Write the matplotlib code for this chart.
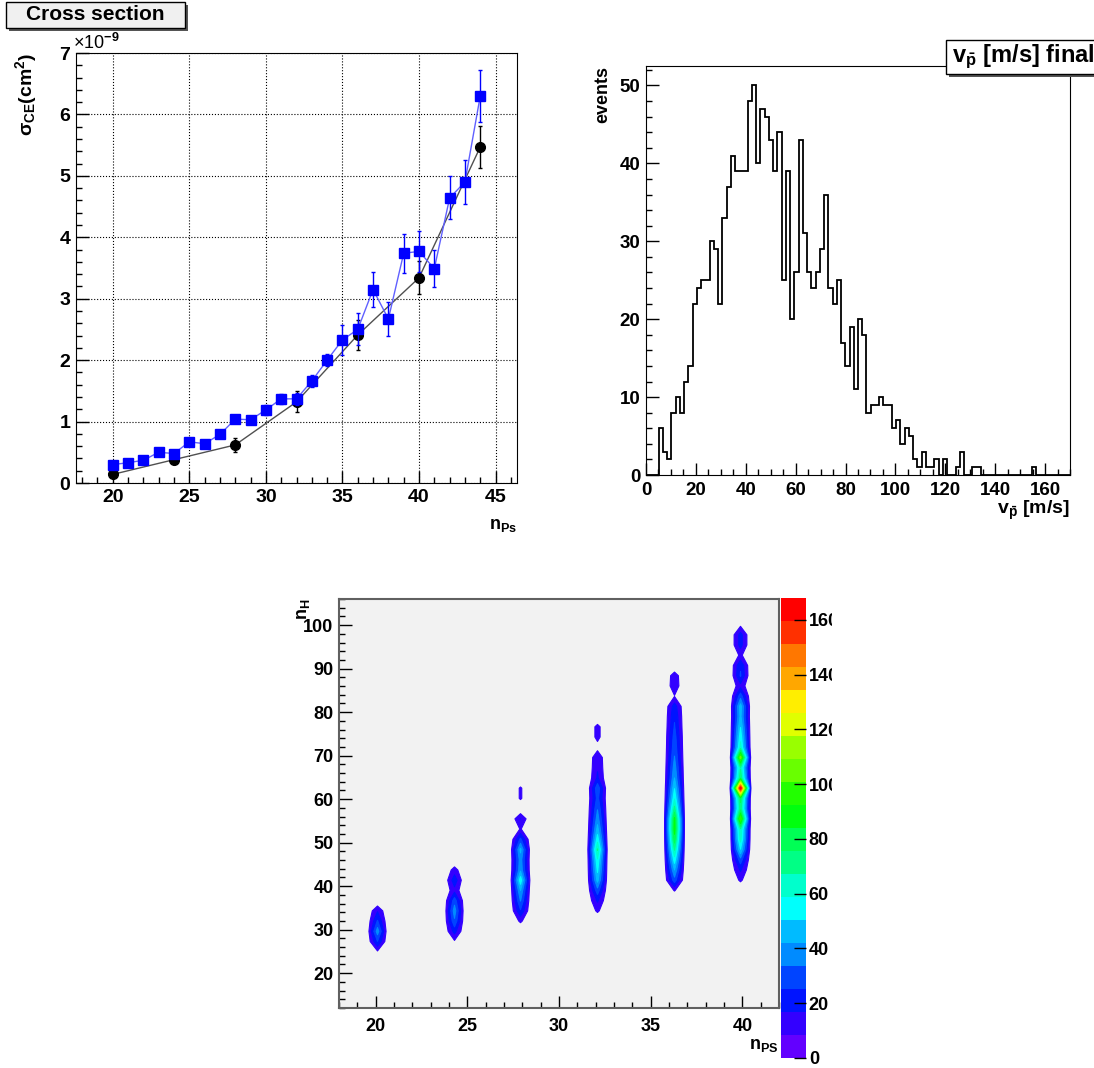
import colorsys
import numpy as np
import matplotlib
matplotlib.use('Agg')
import matplotlib.pyplot as plt
from matplotlib.colors import ListedColormap, BoundaryNorm
from matplotlib.cm import ScalarMappable
from matplotlib.ticker import MultipleLocator
from matplotlib.patches import Rectangle

plt.rcParams['font.family'] = ['Liberation Sans', 'DejaVu Sans']
plt.rcParams['font.weight'] = 'bold'
plt.rcParams['mathtext.fontset'] = 'custom'
plt.rcParams['mathtext.rm'] = 'Liberation Sans:bold'
plt.rcParams['mathtext.it'] = 'Liberation Sans:bold'
plt.rcParams['mathtext.bf'] = 'Liberation Sans:bold'

# --- cross section vs n_Ps (units of 1e-9 cm^2)
n_blue = list(range(20, 45))
sigma_blue = [0.30, 0.33, 0.37, 0.50, 0.48, 0.67, 0.64, 0.79, 1.04, 1.03,
              1.19, 1.37, 1.37, 1.66, 2.00, 2.33, 2.50, 3.15, 2.67, 3.74,
              3.77, 3.49, 4.64, 4.90, 6.30]
err_blue = [0.03, 0.03, 0.03, 0.04, 0.04, 0.05, 0.05, 0.05, 0.06, 0.06,
            0.08, 0.08, 0.10, 0.10, 0.10, 0.25, 0.26, 0.29, 0.27, 0.32,
            0.33, 0.30, 0.35, 0.36, 0.42]
n_black = [20, 24, 28, 32, 36, 40, 44]
sigma_black = [0.14, 0.38, 0.62, 1.32, 2.41, 3.34, 5.47]
err_black = [0.03, 0.06, 0.11, 0.17, 0.24, 0.27, 0.34]

# --- antiproton velocity histogram (100 bins, 0-170 m/s)
v_edges = np.linspace(0, 170, 101)
v_counts = [0, 0, 0, 6, 3, 2, 8, 10, 8, 12,
            14, 22, 24, 25, 25, 30, 29, 22, 33, 37,
            41, 39, 39, 39, 48, 50, 40, 47, 46, 43,
            39, 44, 25, 39, 20, 26, 43, 31, 26, 24,
            26, 29, 36, 24, 22, 25, 17, 14, 19, 11,
            20, 18, 8, 9, 9, 10, 9, 9, 6, 7,
            4, 6, 5, 2, 1, 3, 1, 1, 2, 0,
            2, 0, 0, 1, 3, 0, 0, 1, 1, 0,
            0, 0, 0, 0, 0, 0, 0, 0, 0, 0,
            0, 1, 0, 0, 0, 0, 0, 0, 0, 0]

# --- n_H vs n_PS 2D histogram
nps_edges = np.linspace(18, 42, 41)
nh_edges = np.linspace(12, 106, 41)
nps_cols = [20, 24, 28, 32, 36, 40]
nh_lo = [25, 27, 32, 34, 39, 41]
prof_20 = [7, 25, 38, 26, 16]
prof_24 = [7, 20, 32, 38, 30, 14, 22, 12]
prof_28 = [10, 24, 34, 42, 56, 40, 38, 44, 27, 9, 17, 0, 9.5, 9.5]
prof_32 = [10, 18, 30, 45, 52, 58, 68, 55, 45, 38, 33, 28, 31, 18, 16, 15,
           5, 11, 11]
prof_36 = [9, 30, 42, 55, 68, 80, 88, 86, 70, 58, 50, 42, 38, 34, 31, 29,
           26, 24, 21, 8, 14, 13]
prof_40 = [10, 18, 30, 50, 62, 66, 100, 72, 78, 168, 75, 66, 105, 62, 56,
           50, 44, 46, 30, 14, 26, 24, 10, 20, 20, 6]
profiles = [prof_20, prof_24, prof_28, prof_32, prof_36, prof_40]

W, H = 1094, 1068
fig = plt.figure(figsize=(W / 100, H / 100), dpi=100)


def box(l, t, r, b):
    return [l / W, 1 - b / H, (r - l) / W, (b - t) / H]


def fpx(x, y):
    return (x / W, 1 - y / H)


def title_box(l, t, r, b, fc):
    fig.add_artist(Rectangle(fpx(l + 3, b + 3), (r - l) / W, (b - t) / H,
                             transform=fig.transFigure, fc='#555555',
                             ec='none', zorder=20))
    fig.add_artist(Rectangle(fpx(l, b), (r - l) / W, (b - t) / H,
                             transform=fig.transFigure, fc=fc,
                             ec='black', lw=1, zorder=21))


def root_ticks(ax, size):
    ax.tick_params(which='both', direction='in', top=False, right=False,
                   labelsize=size, width=1)
    ax.tick_params(which='major', length=9)
    ax.tick_params(which='minor', length=4.5)


# ---------------- panel 1
ax1 = fig.add_axes(box(76, 53, 517, 483))
ax1.plot(n_black, sigma_black, color='#505050', lw=1, zorder=2)
ax1.errorbar(n_black, sigma_black, yerr=err_black, fmt='o', color='black',
             ms=7, elinewidth=1, capsize=1.5, zorder=3)
ax1.plot(n_blue, sigma_blue, color='#6060ff', lw=1, zorder=4)
ax1.errorbar(n_blue, sigma_blue, yerr=err_blue, fmt='s', color='#0000ff',
             ms=7, elinewidth=1, capsize=1.5, zorder=5)
ax1.set_xlim(17.6, 46.4)
ax1.set_ylim(0, 7)
ax1.xaxis.set_major_locator(MultipleLocator(5))
ax1.xaxis.set_minor_locator(MultipleLocator(1))
ax1.yaxis.set_major_locator(MultipleLocator(1))
ax1.yaxis.set_minor_locator(MultipleLocator(0.2))
ax1.grid(True, which='major', ls=':', color='black', lw=0.8)
root_ticks(ax1, 14)
ax1.tick_params(axis='x', pad=4)
ax1.tick_params(axis='y', pad=4)
fig.text(*fpx(26, 53), 'σ$_{\\rm CE}$(cm$^{2}$)', rotation=90, ha='center',
         va='top', fontsize=14)
fig.text(*fpx(73, 53), '×10$^{-9}$', ha='left', va='bottom', fontsize=13,
         fontweight='normal')
fig.text(*fpx(517, 534), 'n$_{\\rm Ps}$', ha='right', va='bottom', fontsize=13)
title_box(6, 2, 185, 28, '#f0f0f0')
fig.text(*fpx(95.5, 15), 'Cross section', ha='center', va='center',
         fontsize=15, zorder=22)

# ---------------- panel 2
ax2 = fig.add_axes(box(646, 66, 1070, 475))
ax2.stairs(v_counts, v_edges, color='black', lw=1.3)
ax2.set_xlim(0, 170)
ax2.set_ylim(0, 52.5)
ax2.xaxis.set_major_locator(MultipleLocator(20))
ax2.xaxis.set_minor_locator(MultipleLocator(5))
ax2.yaxis.set_major_locator(MultipleLocator(10))
ax2.yaxis.set_minor_locator(MultipleLocator(2))
root_ticks(ax2, 13.5)
ax2.tick_params(axis='x', pad=5)
ax2.tick_params(axis='y', pad=4)
fig.text(*fpx(603, 66), 'events', rotation=90, ha='center', va='top',
         fontsize=13)
fig.text(*fpx(1070, 522), 'v$_{\\bar{\\rm p}}$ [m/s]', ha='right',
         va='bottom', fontsize=14)
title_box(946, 40, 1110, 74, 'white')
fig.text(*fpx(952, 57), 'v$_{\\bar{\\rm p}}$ [m/s] final', ha='left',
         va='center', fontsize=17, zorder=22)

# ---------------- panel 3
ax3 = fig.add_axes(box(339, 599, 779, 1008))
ax3.set_facecolor('#f2f2f2')
Z = np.zeros((len(nh_edges) - 1, len(nps_edges) - 1))
for x, lo, prof in zip(nps_cols, nh_lo, profiles):
    i = np.digitize(x, nps_edges) - 1
    k0 = np.digitize(lo, nh_edges) - 1
    Z[k0:k0 + len(prof), i] = prof
nps_c = 0.5 * (nps_edges[:-1] + nps_edges[1:])
nh_c = 0.5 * (nh_edges[:-1] + nh_edges[1:])

ndiv = 20
levels = np.linspace(0, Z.max(), ndiv + 1)
palette = []
for j in range(ndiv):
    c = int((j + 0.99) * 50 / ndiv)
    hue = 280 - (c + 1) * 280 / 50
    palette.append(colorsys.hls_to_rgb(hue / 360, 0.5, 1.0))
cs = ax3.contourf(nps_c, nh_c, Z, levels=levels[1:], colors=palette[1:],
                  antialiased=True)
cs.set_edgecolor('face')
cs.set_linewidth(0.8)
ax3.set_xlim(18, 42)
ax3.set_ylim(12, 106)
ax3.xaxis.set_major_locator(MultipleLocator(5))
ax3.xaxis.set_minor_locator(MultipleLocator(1))
ax3.yaxis.set_major_locator(MultipleLocator(10))
ax3.yaxis.set_minor_locator(MultipleLocator(2))
root_ticks(ax3, 13)
ax3.tick_params(axis='x', pad=7)
ax3.tick_params(axis='y', pad=4)
for s in ax3.spines.values():
    s.set_color('#606060')
    s.set_linewidth(1.5)
fig.text(*fpx(779, 1054), 'n$_{\\rm PS}$', ha='right', va='bottom',
         fontsize=13)
fig.text(*fpx(304, 599), 'n$_{\\rm H}$', rotation=90, ha='center', va='top',
         fontsize=13)

cax = fig.add_axes(box(781, 598, 806, 1058))
cmap = ListedColormap(palette)
norm = BoundaryNorm(levels, cmap.N)
cb = fig.colorbar(ScalarMappable(norm=norm, cmap=cmap), cax=cax,
                  ticks=list(range(0, 161, 20)))
cb.outline.set_visible(False)
cb.ax.tick_params(direction='in', length=9, width=1, labelsize=13, pad=2)
cb.ax.minorticks_off()
# the original panel is cropped just right of the palette labels
fig.add_artist(Rectangle((832 / W, 0), 1, (H - 590) / H,
                         transform=fig.transFigure, fc='white', ec='none',
                         zorder=30))

fig.savefig('out.png', dpi=100)
